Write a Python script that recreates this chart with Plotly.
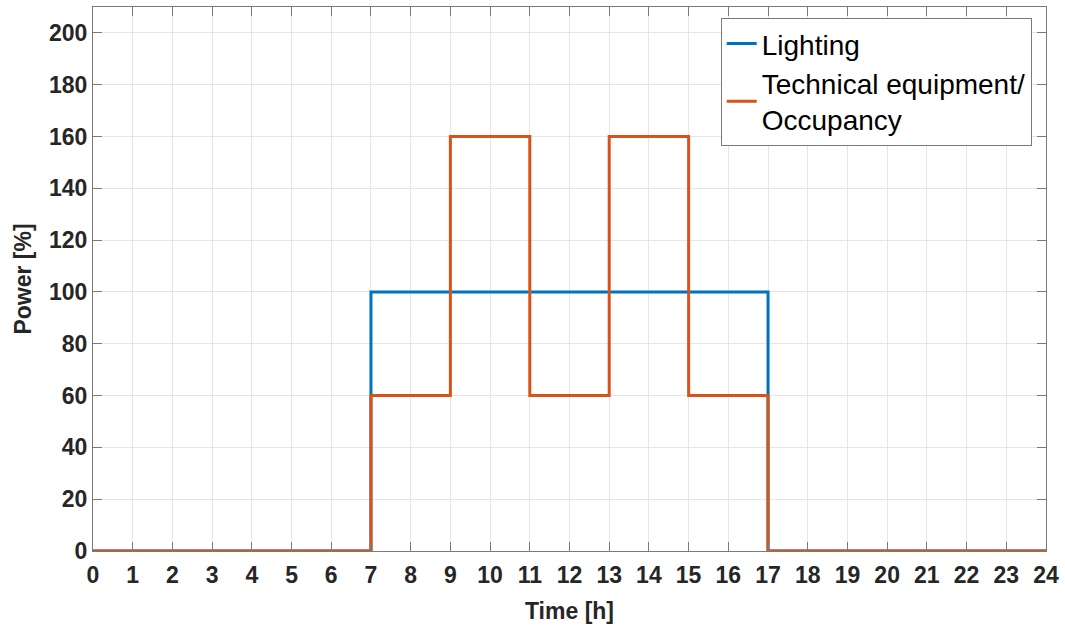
import plotly.graph_objects as go

hours = list(range(25))
lighting = [0, 0, 0, 0, 0, 0, 0, 100, 100, 100, 100, 100, 100, 100, 100, 100, 100, 0, 0, 0, 0, 0, 0, 0, 0]
technical = [0, 0, 0, 0, 0, 0, 0, 60, 60, 160, 160, 60, 60, 160, 160, 60, 60, 0, 0, 0, 0, 0, 0, 0, 0]
x_ticks = list(range(25))
y_ticks = list(range(0, 201, 20))

fig = go.Figure()
fig.add_trace(go.Scatter(x=hours, y=lighting, mode="lines", line_shape="hv",
                         line=dict(color="#0072BD", width=3), name="Lighting"))
fig.add_trace(go.Scatter(x=hours, y=technical, mode="lines", line_shape="hv",
                         line=dict(color="#D95319", width=3), name="Technical equipment/<br>Occupancy"))

axis_common = dict(showline=True, linecolor="#7a7a7a", linewidth=1, mirror="ticks",
                   ticks="inside", ticklen=9, tickcolor="#7a7a7a", tickwidth=1,
                   showgrid=True, gridcolor="#e6e6e6", gridwidth=1, zeroline=False,
                   tickfont=dict(family="Liberation Sans, Arial", size=23, color="#262626", weight="bold"),
                   title_font=dict(family="Liberation Sans, Arial", size=23, color="#262626", weight="bold"))

fig.update_xaxes(range=[0, 24], tickvals=x_ticks, title_text="Time [h]", title_standoff=16,
                 ticklabelstandoff=3, **axis_common)
fig.update_yaxes(range=[0, 210], tickvals=y_ticks, title_text="Power [%]", title_standoff=10, **axis_common)

fig.update_layout(
    width=1065, height=631,
    margin=dict(l=93, r=19, t=7, b=80),
    plot_bgcolor="white", paper_bgcolor="white",
    legend=dict(x=0.985, xanchor="right", y=0.98, yanchor="top",
                bgcolor="white", bordercolor="#7a7a7a", borderwidth=1,
                font=dict(family="Liberation Sans, Arial", size=28, color="black")),
)

fig.write_html("out.html")
